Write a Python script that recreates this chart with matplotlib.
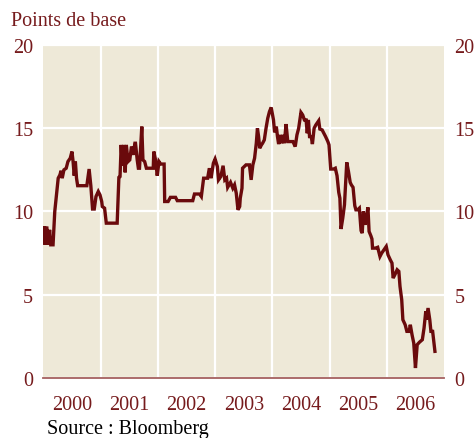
import numpy as np
import matplotlib.pyplot as plt
from matplotlib.ticker import FixedLocator, NullFormatter

# Spread (points de base)
years = [2000.00, 2000.02, 2000.03, 2000.06, 2000.09, 2000.11, 2000.13, 2000.17, 2000.20, 2000.23,
         2000.26, 2000.29, 2000.31, 2000.33, 2000.36, 2000.40, 2000.43, 2000.47, 2000.50, 2000.52,
         2000.54, 2000.56, 2000.58, 2000.60, 2000.76, 2000.80, 2000.83, 2000.86, 2000.89, 2000.92,
         2000.96, 2000.99, 2001.02, 2001.03, 2001.07, 2001.10, 2001.29, 2001.32, 2001.34, 2001.36,
         2001.38, 2001.41, 2001.43, 2001.45, 2001.48, 2001.51, 2001.54, 2001.57, 2001.60, 2001.61,
         2001.64, 2001.66, 2001.68, 2001.70, 2001.72, 2001.74, 2001.77, 2001.80, 2001.92, 2001.93,
         2001.96, 2001.99, 2002.02, 2002.05, 2002.11, 2002.12, 2002.18, 2002.22, 2002.31, 2002.34,
         2002.61, 2002.64, 2002.73, 2002.76, 2002.80, 2002.87, 2002.90, 2002.93, 2002.97, 2003.00,
         2003.04, 2003.06, 2003.10, 2003.14, 2003.17, 2003.20, 2003.22, 2003.27, 2003.31, 2003.34,
         2003.37, 2003.40, 2003.43, 2003.44, 2003.47, 2003.48, 2003.54, 2003.60, 2003.63, 2003.66,
         2003.69, 2003.72, 2003.74, 2003.76, 2003.78, 2003.81, 2003.83, 2003.86, 2003.89, 2003.92,
         2003.95, 2003.98, 2004.02, 2004.04, 2004.07, 2004.09, 2004.11, 2004.14, 2004.16, 2004.19,
         2004.21, 2004.24, 2004.27, 2004.36, 2004.40, 2004.43, 2004.46, 2004.50, 2004.53, 2004.56,
         2004.59, 2004.61, 2004.63, 2004.65, 2004.68, 2004.70, 2004.73, 2004.76, 2004.81, 2004.83,
         2004.87, 2004.90, 2004.93, 2004.97, 2004.99, 2005.02, 2005.07, 2005.10, 2005.13, 2005.16,
         2005.18, 2005.20, 2005.23, 2005.26, 2005.30, 2005.33, 2005.36, 2005.38, 2005.41, 2005.44,
         2005.46, 2005.49, 2005.52, 2005.55, 2005.57, 2005.59, 2005.62, 2005.64, 2005.67, 2005.69,
         2005.72, 2005.74, 2005.75, 2005.80, 2005.84, 2005.88, 2005.91, 2005.95, 2005.99, 2006.02,
         2006.06, 2006.09, 2006.11, 2006.14, 2006.18, 2006.21, 2006.23, 2006.26, 2006.28, 2006.32,
         2006.35, 2006.39, 2006.41, 2006.44, 2006.47, 2006.50, 2006.53, 2006.57, 2006.62, 2006.65,
         2006.68, 2006.69, 2006.72, 2006.75, 2006.77, 2006.80, 2006.84]
spread = [8.2, 9.1, 8.0, 9.1, 8.0, 8.9, 8.0, 8.0, 10.0, 11.0,
          12.0, 12.2, 12.45, 12.0, 12.5, 12.6, 13.0, 13.2, 13.6, 13.0,
          12.15, 13.0, 12.0, 11.55, 11.55, 12.55, 11.55, 10.15, 10.15, 10.9,
          11.2, 11.0, 10.6, 10.3, 10.2, 9.3, 9.3, 12.05, 12.1, 14.0,
          12.75, 14.0, 12.35, 14.0, 13.0, 13.1, 13.9, 13.4, 14.1, 14.1,
          13.1, 12.6, 12.6, 13.8, 15.1, 13.1, 13.0, 12.6, 12.6, 13.6,
          13.1, 12.15, 13.0, 12.85, 12.85, 10.6, 10.6, 10.85, 10.85, 10.65,
          10.65, 11.05, 11.05, 10.9, 12.0, 12.0, 12.6, 12.0, 12.9, 13.15,
          12.7, 11.9, 12.1, 12.75, 11.9, 12.0, 11.45, 11.75, 11.4, 11.6,
          11.1, 10.1, 10.3, 10.8, 11.4, 12.6, 12.8, 12.8, 11.9, 12.8,
          13.2, 14.1, 15.0, 14.5, 13.8, 14.0, 14.1, 14.3, 15.0, 15.6,
          16.0, 16.25, 15.5, 14.75, 15.1, 14.5, 14.05, 14.6, 14.1, 14.6,
          14.1, 15.25, 14.2, 14.2, 13.9, 14.6, 15.0, 15.95, 15.8, 15.5,
          15.5, 14.7, 15.5, 14.5, 14.5, 14.05, 15.0, 15.2, 15.45, 14.95,
          14.9, 14.7, 14.5, 14.2, 14.0, 12.55, 12.55, 12.6, 12.15, 11.15,
          10.8, 8.95, 9.6, 10.4, 12.95, 12.4, 11.75, 11.6, 11.45, 10.35,
          10.1, 10.1, 10.2, 8.85, 8.7, 10.0, 9.2, 9.6, 10.25, 8.8,
          8.55, 8.35, 7.8, 7.8, 7.85, 7.3, 7.5, 7.7, 7.9, 7.4,
          7.1, 6.9, 6.0, 6.2, 6.5, 6.4, 5.5, 4.7, 3.5, 3.2,
          2.8, 2.8, 3.2, 2.6, 2.1, 0.6, 2.0, 2.15, 2.3, 3.0,
          4.0, 3.5, 4.2, 3.5, 2.8, 2.8, 1.6]

year_labels = ['2000', '2001', '2002', '2003', '2004', '2005', '2006']
y_ticks = [0, 5, 10, 15, 20]

plt.rcParams['font.family'] = ['Liberation Serif', 'DejaVu Serif']
red_text = '#761b1d'
line_col = '#6a0a0c'

fig = plt.figure(figsize=(4.77, 4.39), dpi=100)
ax = fig.add_axes([0.0908, 0.1367, 0.8402, 0.7585])
ax.set_facecolor('#eee9d8')

ax.plot(years, spread, color=line_col, lw=2.4, solid_joinstyle='miter', zorder=3)

ax.set_xlim(2000, 2007)
ax.set_ylim(0, 20)

# white grid at year boundaries and every 5 bp
ax.xaxis.set_major_locator(FixedLocator(np.arange(2001, 2007)))
ax.xaxis.set_major_formatter(NullFormatter())
ax.xaxis.set_minor_locator(FixedLocator(np.arange(2000, 2007) + 0.5))
ax.set_xticklabels(year_labels, minor=True)
ax.set_yticks(y_ticks)
ax.grid(True, which='major', color='white', lw=1.6, zorder=1)
ax.set_axisbelow(True)

ax.tick_params(which='both', length=0, colors=red_text, labelsize=14.5)
ax.tick_params(axis='y', labelleft=True, labelright=True, pad=7.5)
ax.tick_params(axis='x', which='minor', pad=12)

for s in ['top', 'left', 'right']:
    ax.spines[s].set_visible(False)
ax.spines['bottom'].set_color('#a5605f')
ax.spines['bottom'].set_linewidth(1.3)

fig.text(0.023, 0.941, 'Points de base', color=red_text, fontsize=14.5, va='baseline')
fig.text(0.0985, 0.012, 'Source : Bloomberg', color='black', fontsize=14.5, va='baseline')

fig.savefig('out.png', dpi=100)
